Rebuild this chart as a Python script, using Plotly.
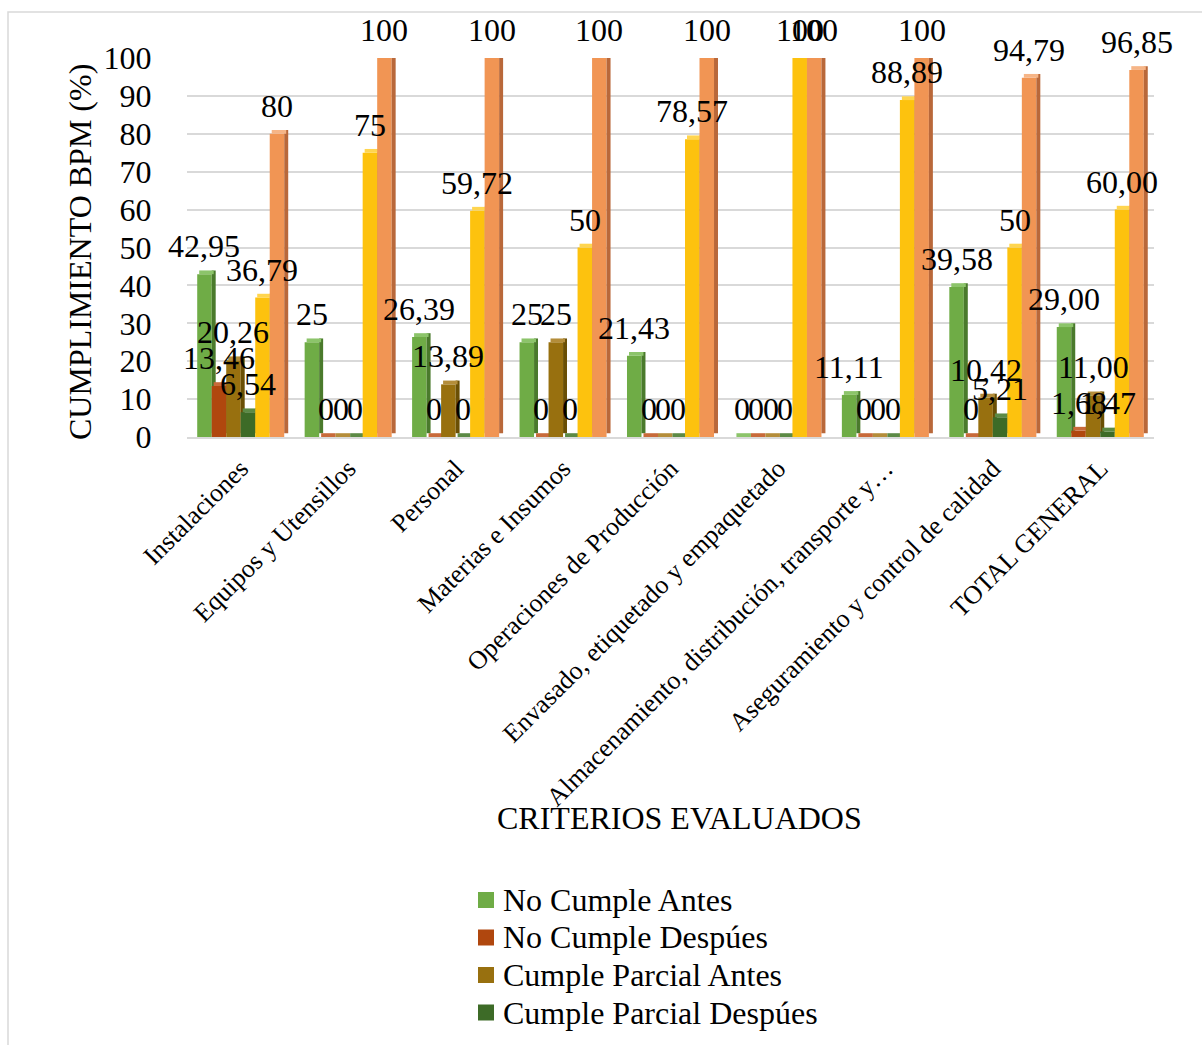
import plotly.graph_objects as go

# Criteria evaluated (x axis) and compliance percentages per series
categories = [
    "Instalaciones",
    "Equipos y Utensillos",
    "Personal",
    "Materias e Insumos",
    "Operaciones de Producción",
    "Envasado, etiquetado y empaquetado",
    "Almacenamiento, distribución, transporte y…",
    "Aseguramiento y control de calidad",
    "TOTAL GENERAL",
]

no_cumple_antes = [42.95, 25, 26.39, 25, 21.43, 0, 11.11, 39.58, 29.00]
no_cumple_despues = [13.46, 0, 0, 0, 0, 0, 0, 0, 1.68]
cumple_parcial_antes = [20.26, 0, 13.89, 25, 0, 0, 0, 10.42, 11.00]
cumple_parcial_despues = [6.54, 0, 0, 0, 0, 0, 0, 5.21, 1.47]
cumple_antes = [36.79, 75, 59.72, 50, 78.57, 100, 88.89, 50, 60.00]
cumple_despues = [80, 100, 100, 100, 100, 100, 100, 94.79, 96.85]

y_ticks = [0, 10, 20, 30, 40, 50, 60, 70, 80, 90, 100]

# name, values, front colour, side colour, top colour, listed in the key
series = [
    ("No Cumple Antes", no_cumple_antes, "#6FAC46", "#4A7A2C", "#8CC46A", True),
    ("No Cumple Despúes", no_cumple_despues, "#B0470E", "#833409", "#C86A3A", True),
    ("Cumple Parcial Antes", cumple_parcial_antes, "#98700F", "#6A4F05", "#B48D3A", True),
    ("Cumple Parcial Despúes", cumple_parcial_despues, "#3D6B27", "#2A4C1B", "#5C8A45", True),
    ("Cumple Antes", cumple_antes, "#FDC20E", "#C99700", "#FFD54F", False),
    ("Cumple Despúes", cumple_despues, "#F19554", "#B9683A", "#F6B587", False),
]

FONT = "Liberation Serif, Times New Roman, serif"
W, H = 1202, 1045
M_L, M_R, M_T, M_B = 187, 48, 58, 608
PW, PH = W - M_L - M_R, H - M_T - M_B

pitch = 0.135       # width of each bar face in category units
side_w = 0.037      # depth face width
depth = 1.0         # vertical lift of the depth faces (axis units)
n_series = len(series)
total_idx = categories.index("TOTAL GENERAL")


def px_x(px):
    return (px - M_L) / PW


def px_y(py):
    return (H - M_B - py) / PH


def fmt(v, fixed):
    s = f"{v:.2f}" if fixed else f"{v:g}"
    return s.replace(".", ",")


fig = go.Figure()
annotations = []
shapes = []

for j, (name, vals, c_front, c_side, c_top, in_key) in enumerate(series):
    xs = [i + (j - (n_series - 1) / 2) * pitch for i in range(len(categories))]
    fig.add_trace(go.Bar(
        x=xs, y=vals, width=pitch, name=name,
        marker=dict(color=c_front, line=dict(width=0)),
        showlegend=False, hoverinfo="y",
    ))
    # right-hand depth face
    fig.add_trace(go.Bar(
        x=[x + pitch / 2 + side_w / 2 for x in xs], y=vals,
        base=[depth] * len(vals), width=side_w,
        marker=dict(color=c_side, line=dict(width=0)),
        showlegend=False, hoverinfo="skip",
    ))
    # top face
    fig.add_trace(go.Bar(
        x=[x + side_w / 2 for x in xs], y=[depth] * len(vals),
        base=vals, width=pitch,
        marker=dict(color=c_top, line=dict(width=0)),
        showlegend=False, hoverinfo="skip",
    ))
    for i, (x, v) in enumerate(zip(xs, vals)):
        annotations.append(dict(
            x=x, y=v, xref="x", yref="y", text=fmt(v, i == total_idx),
            showarrow=False, xanchor="center", yanchor="middle", yshift=28,
            font=dict(family=FONT, size=32, color="black"),
        ))

# key (legend) entries
key_rows = [s for s in series if s[5]]
for k, (name, _, c_front, _, _, _) in enumerate(key_rows):
    cy = 900 + k * 37.5
    shapes.append(dict(
        type="rect", xref="paper", yref="paper",
        x0=px_x(478), x1=px_x(494), y0=px_y(cy + 8), y1=px_y(cy - 8),
        fillcolor=c_front, line=dict(width=0),
    ))
    annotations.append(dict(
        x=px_x(501), y=px_y(cy), xref="paper", yref="paper",
        text=name, showarrow=False, xanchor="left", yanchor="middle",
        font=dict(family=FONT, size=32, color="black"),
    ))

annotations.append(dict(
    x=px_x(80), y=px_y(252), xref="paper", yref="paper",
    text="CUMPLIMIENTO BPM (%)", textangle=-90, showarrow=False,
    xanchor="center", yanchor="middle",
    font=dict(family=FONT, size=32, color="black"),
))
annotations.append(dict(
    x=px_x(679), y=px_y(818), xref="paper", yref="paper",
    text="CRITERIOS EVALUADOS", showarrow=False,
    xanchor="center", yanchor="middle",
    font=dict(family=FONT, size=32, color="black"),
))

# chart area border
shapes.append(dict(
    type="rect", xref="paper", yref="paper",
    x0=px_x(8), x1=px_x(1260), y0=px_y(1100), y1=px_y(12),
    line=dict(color="#D9D9D9", width=1.5), layer="below",
))

fig.update_layout(
    width=W, height=H,
    margin=dict(l=M_L, r=M_R, t=M_T, b=M_B, autoexpand=False),
    barmode="overlay",
    plot_bgcolor="white", paper_bgcolor="white",
    font=dict(family=FONT, size=32, color="black"),
    annotations=annotations,
    shapes=shapes,
    showlegend=False,
)

fig.update_xaxes(
    range=[-0.5, len(categories) - 0.5],
    tickvals=list(range(len(categories))), ticktext=categories,
    tickangle=-45, tickfont=dict(family=FONT, size=26, color="black"),
    ticks="outside", ticklen=4, tickcolor="rgba(0,0,0,0)",
    showgrid=False, zeroline=False, showline=True,
    linecolor="#D9D9D9", linewidth=2,
)
fig.update_yaxes(
    range=[0, 100], tickvals=y_ticks,
    tickfont=dict(family=FONT, size=32, color="black"),
    ticks="outside", ticklen=28, tickcolor="rgba(0,0,0,0)",
    showgrid=True, gridcolor="#D9D9D9", gridwidth=2,
    zeroline=False, showline=False,
)

fig.write_html("out.html")
